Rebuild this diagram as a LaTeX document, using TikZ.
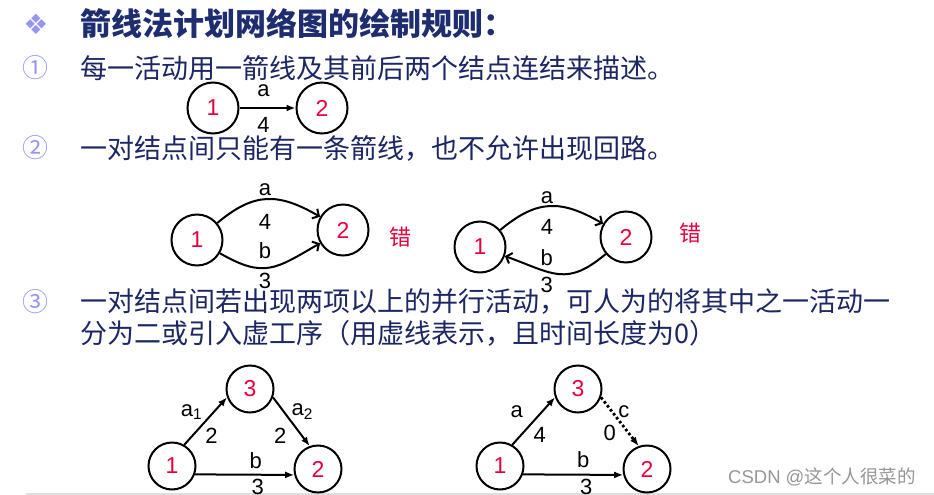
\documentclass[tikz,border=0pt]{standalone}
\usepackage{fontspec}
\setmainfont{Liberation Sans}
\newfontfamily\cjk{Noto Sans CJK SC}
\newfontfamily\dingfont{DejaVu Sans}
\usetikzlibrary{positioning,arrows.meta}
\definecolor{titleblue}{RGB}{30,44,112}
\definecolor{bodyblue}{RGB}{28,38,100}
\definecolor{bulletblue}{RGB}{150,150,240}
\definecolor{nodered}{RGB}{232,0,60}
\definecolor{markgray}{RGB}{150,150,150}
\definecolor{bandgray}{RGB}{222,222,222}

\begin{document}
\begin{tikzpicture}[x=1pt,y=-1pt,
roundnode/.style={circle, draw=black, line width=2pt, minimum size=51pt, inner sep=0pt, text=nodered, font=\fontsize{23}{23}\selectfont},
smallnode/.style={roundnode, minimum size=47pt},
ruletext/.style={anchor=west, inner sep=0pt, text=bodyblue, font=\cjk\fontsize{27}{30}\selectfont},
rulemark/.style={inner sep=0pt, text=bulletblue, font=\cjk\fontsize{26}{30}\selectfont},
lbl/.style={inner sep=0pt, font=\fontsize{22}{22}\selectfont},
act/.style={line width=2pt, -{Latex[length=9pt,width=7pt]}},
bent/.style={line width=2pt, -{Straight Barb[length=5pt,width=11pt]}},
dummy/.style={act, dash pattern=on 2.6pt off 2.4pt, line width=2.8pt},
wrong/.style={inner sep=0pt, text=nodered, font=\cjk\fontsize{22}{22}\selectfont},
]
\useasboundingbox (0,0) rectangle (934,495);
\fill[bandgray] (26,492.5) rectangle (934,495);
%Text
\node[inner sep=0pt, text=bulletblue, font=\dingfont\fontsize{28}{28}\selectfont] (bullet) at (36,24) {❖};
\node[ruletext, text=titleblue, font=\cjk\bfseries\fontsize{31}{34}\selectfont] (title) at (80,24) {箭线法计划网络图的绘制规则：};
\node[rulemark] (m1) at (35,68) {①};
\node[ruletext] (r1) at (80,68) {每一活动用一箭线及其前后两个结点连结来描述。};
\node[rulemark] (m2) at (35,148) {②};
\node[ruletext] (r2) at (80,148) {一对结点间只能有一条箭线，也不允许出现回路。};
\node[rulemark] (m3) at (35,302) {③};
\node[ruletext] (r3) at (80,302) {一对结点间若出现两项以上的并行活动，可人为的将其中之一活动一};
\node[ruletext] (r3b) at (80,333) {分为二或引入虚工序（用虚线表示，且时间长度为0）};
%Rule 1
\node[roundnode] (A1) at (213,108) {1};
\node[roundnode, on grid] (B1) [right=109pt of A1] {2};
\draw[act] (A1) -- node[lbl, xshift=-4pt, yshift=17pt] {a} node[lbl, xshift=-4pt, yshift=-17pt] {4} (B1);
%Rule 2
\node[roundnode] (A2) at (197,240) {1};
\node[roundnode] (B2) at (343,230) {2};
\draw[bent] (A2) to[out=40,in=150,looseness=1.2] node[lbl, xshift=-2pt, yshift=9pt] {a} node[lbl, xshift=-2pt, yshift=-23pt] {4} (B2);
\draw[bent] (A2) to[out=-30,in=210,looseness=1.3] node[lbl, xshift=-5pt, yshift=17pt] {b} node[lbl, xshift=-5pt, yshift=-13pt] {3} (B2);
\node[wrong] (W2) at (400,237) {错};
\node[roundnode] (C2) at (480,247) {1};
\node[roundnode] (D2) at (626,237) {2};
\draw[bent] (C2) to[out=40,in=150,looseness=1.2] node[lbl, xshift=-3pt, yshift=8pt] {a} node[lbl, xshift=-3pt, yshift=-21pt] {4} (D2);
\draw[bent] (D2) to[out=220,in=-20,looseness=1.3] node[lbl, xshift=-12pt, yshift=16pt] {b} node[lbl, xshift=-12pt, yshift=-11pt] {3} (C2);
\node[wrong] (W3) at (690,233) {错};
%Rule 3
\node[smallnode] (A3) at (172,466) {1};
\node[smallnode] (C3) at (250,389) {3};
\node[smallnode] (B3) at (318,469) {2};
\draw[act] (A3.60) -- node[lbl, xshift=-14pt, yshift=9pt] {a\textsubscript{1}} node[lbl, xshift=6pt, yshift=-15pt] {2} (C3.200);
\draw[act] (C3.-20) -- node[lbl, xshift=11pt, yshift=10pt] {a\textsubscript{2}} node[lbl, xshift=-11pt, yshift=-14pt] {2} (B3.110);
\draw[act] (A3.-20) -- node[lbl, xshift=11pt, yshift=14pt] {b} node[lbl, xshift=13pt, yshift=-12pt] {3} (B3.194);
\node[smallnode] (A4) at (500,466) {1};
\node[smallnode] (C4) at (578,389) {3};
\node[smallnode] (B4) at (647,469) {2};
\draw[act] (A4.60) -- node[lbl, xshift=-17pt, yshift=9pt] {a} node[lbl, xshift=6pt, yshift=-14pt] {4} (C4.200);
\draw[dummy] (C4.-20) -- node[lbl, xshift=4pt, yshift=10pt] {c} node[lbl, xshift=-10pt, yshift=-11pt] {0} (B4.110);
\draw[act] (A4.-20) -- node[lbl, xshift=10pt, yshift=15pt] {b} node[lbl, xshift=13pt, yshift=-12pt] {3} (B4.194);
%Mark
\node[anchor=west, inner sep=0pt, text=markgray, font=\fontsize{18.5}{20}\selectfont] (csdn) at (728,477) {CSDN @{\cjk 这个人很菜的}};
\end{tikzpicture}
\end{document}
